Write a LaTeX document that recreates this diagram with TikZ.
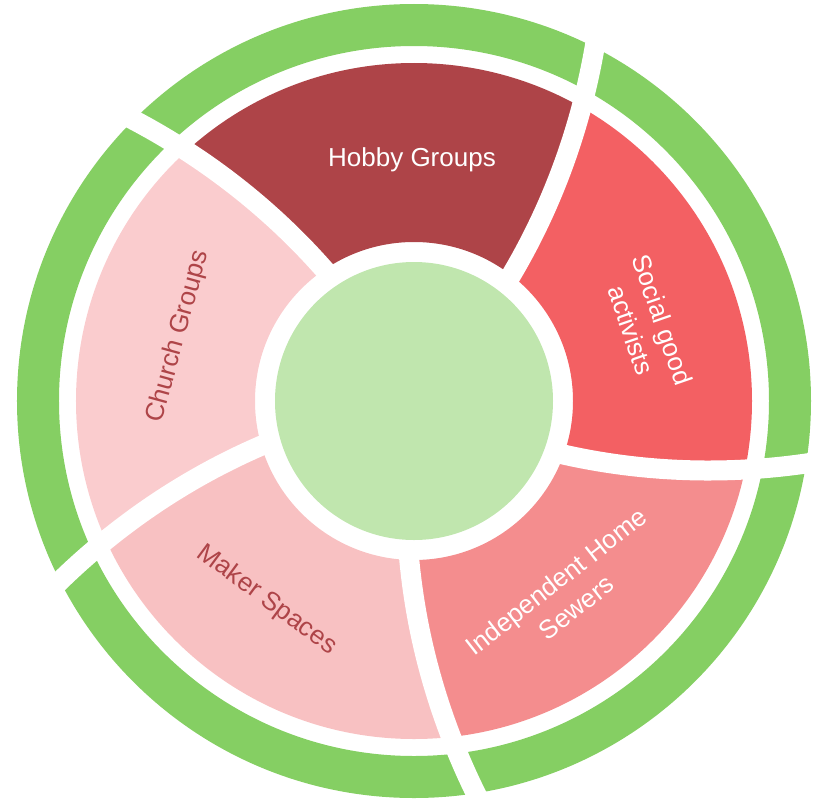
\documentclass[tikz,border=0pt]{standalone}
\usepackage{fontspec}
\setmainfont{Liberation Sans}
\definecolor{ringgreen}{HTML}{85CF63}
\definecolor{centergreen}{HTML}{C0E6AE}
\definecolor{hobbycol}{HTML}{AE4448}
\definecolor{socialcol}{HTML}{F36063}
\definecolor{indepcol}{HTML}{F48D8E}
\definecolor{makercol}{HTML}{F8C1C2}
\definecolor{churchcol}{HTML}{FACCCE}
\definecolor{darktext}{HTML}{AE4448}
\tikzset{
  lbl/.style={inner sep=0pt, align=center, font=\fontsize{26}{33}\selectfont},
  sepline/.style={white, line width=20pt},
}
\newcommand{\segfill}[2]{%
  \begin{scope}
    \clip plot[domain=140:480, samples=25, variable=\q] ({#1+0.0447*(\q-159)}:{\q})
      -- plot[domain=480:140, samples=25, variable=\q] ({#1+72+0.0447*(\q-159)}:{\q}) -- cycle;
    \fill[#2, even odd rule] (0,0) circle (338) (0,0) circle (159);
  \end{scope}}
\newcommand{\sepdraw}[1]{%
  \draw[sepline] plot[domain=150:405, samples=30, variable=\q] ({#1+0.0447*(\q-159)}:{\q});}
\begin{document}
\begin{tikzpicture}[x=1pt,y=1pt]
\useasboundingbox (-414,-403) rectangle (407,401);
% outer green ring
\fill[ringgreen, even odd rule] (0,0) circle (397) (0,0) circle (355);
% segments
\segfill{52.3}{hobbycol}
\segfill{124.3}{churchcol}
\segfill{196.3}{makercol}
\segfill{268.3}{indepcol}
\segfill{340.3}{socialcol}
% separators
\sepdraw{52.3}
\sepdraw{124.3}
\sepdraw{196.3}
\sepdraw{268.3}
\sepdraw{340.3}
% center
\node[circle, fill=centergreen, minimum size=278pt, inner sep=0pt] (hub) at (0,0) {};
% labels
\node[lbl, text=white, anchor=base] (hobby) at (-2,234.3) {Hobby Groups};
\node[lbl, text=white, rotate=-71] (social) at (18.1:245) {Social good\\activists};
\node[lbl, text=white, rotate=38] (indep) at (-51.8:246) {Independent Home\\Sewers};
\node[lbl, text=darktext, rotate=-36.5] (maker) at (233.5:247.6) {Maker Spaces};
\node[lbl, text=darktext, rotate=74.7] (church) at (164.7:244.3) {Church Groups};
\end{tikzpicture}
\end{document}
